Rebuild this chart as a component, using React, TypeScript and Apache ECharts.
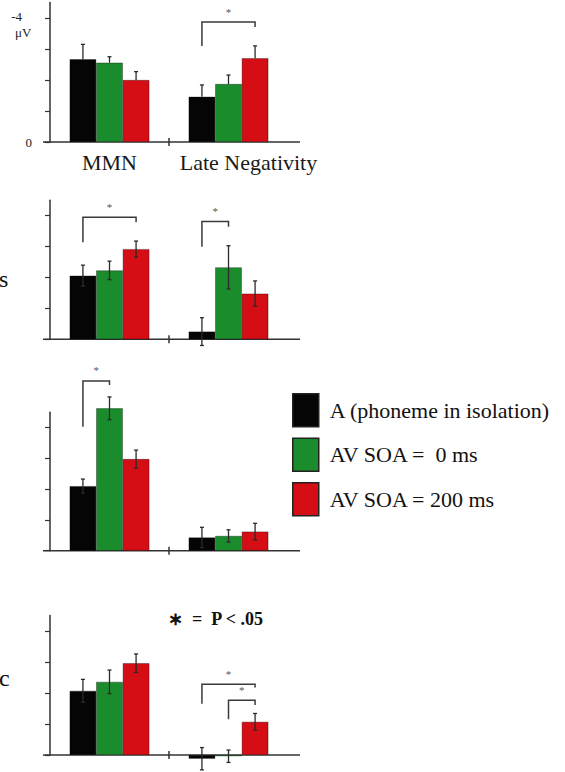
import React, { useEffect, useRef } from 'react';
import * as echarts from 'echarts';

const categories = ['MMN', 'Late Negativity'];
const seriesNames = ['A (phoneme in isolation)', 'AV SOA =  0 ms', 'AV SOA = 200 ms'];
const seriesColors = ['#050505', '#1b8c2b', '#d50d14'];
const yTicks = [0, 1, 2, 3, 4];
const yLabelTicks = [0, 4];

// Panel 1 (values per series: [MMN, Late Negativity])
const p1Black = [2.67, 1.46];
const p1Green = [2.56, 1.87];
const p1Red = [2.0, 2.7];
const p1BlackErr = [0.48, 0.38];
const p1GreenErr = [0.19, 0.29];
const p1RedErr = [0.27, 0.4];
// bracket: [category, fromSeries, toSeries, leftBottom, top, rightBottom]
const p1Brackets = [[1, 0, 2, 3.1, 3.87, 3.71]];

// Panel 2
const p2Black = [2.06, 0.25];
const p2Green = [2.23, 2.33];
const p2Red = [2.92, 1.48];
const p2BlackErr = [0.34, 0.45];
const p2GreenErr = [0.3, 0.7];
const p2RedErr = [0.26, 0.41];
const p2Brackets = [[0, 0, 2, 3.14, 3.95, 3.79], [1, 0, 1, 3.0, 3.81, 3.64]];

// Panel 3
const p3Black = [2.1, 0.43];
const p3Green = [4.63, 0.48];
const p3Red = [2.98, 0.62];
const p3BlackErr = [0.23, 0.33];
const p3GreenErr = [0.37, 0.2];
const p3RedErr = [0.29, 0.27];
const p3Brackets = [[0, 0, 1, 4.03, 5.52, 5.39]];

// Panel 4
const p4Black = [2.07, -0.12];
const p4Green = [2.36, -0.04];
const p4Red = [2.96, 1.07];
const p4BlackErr = [0.37, 0.36];
const p4GreenErr = [0.38, 0.2];
const p4RedErr = [0.3, 0.27];
const p4Brackets = [[1, 0, 2, 1.65, 2.28, 2.18], [1, 1, 2, 1.15, 1.77, 1.61]];

const panels = [
  { values: [p1Black, p1Green, p1Red], errors: [p1BlackErr, p1GreenErr, p1RedErr], brackets: p1Brackets, upOnly: true },
  { values: [p2Black, p2Green, p2Red], errors: [p2BlackErr, p2GreenErr, p2RedErr], brackets: p2Brackets, upOnly: false },
  { values: [p3Black, p3Green, p3Red], errors: [p3BlackErr, p3GreenErr, p3RedErr], brackets: p3Brackets, upOnly: false },
  { values: [p4Black, p4Green, p4Red], errors: [p4BlackErr, p4GreenErr, p4RedErr], brackets: p4Brackets, upOnly: false },
];

const gridTops = [2.5, 200.3, 412.3, 615.5];
const gridHeights = [139.5, 139, 138.4, 139.5];
const GAP = 0.33;
const FONT = 'Liberation Serif';
const AXIS_COLOR = '#333';

function errRenderer(sIdx: number, upOnly: boolean) {
  return (params: any, api: any) => {
    const cat = api.value(0);
    const v = api.value(1);
    const e = api.value(2);
    const band = api.size([1, 0])[0];
    const bw = (band * (1 - GAP)) / 3;
    const cx = api.coord([cat, v])[0] + (sIdx - 1) * bw;
    const yTop = api.coord([cat, v + e])[1];
    const yBot = api.coord([cat, upOnly ? v : v - e])[1];
    const cap = 2;
    const st = { stroke: '#2a2a2a', lineWidth: 1.3 };
    const children: any[] = [
      { type: 'line', shape: { x1: cx, y1: yTop, x2: cx, y2: yBot }, style: st },
      { type: 'line', shape: { x1: cx - cap, y1: yTop, x2: cx + cap, y2: yTop }, style: st },
    ];
    if (!upOnly) {
      children.push({ type: 'line', shape: { x1: cx - cap, y1: yBot, x2: cx + cap, y2: yBot }, style: st });
    }
    return { type: 'group', children };
  };
}

function bracketRenderer(params: any, api: any) {
  const cat = api.value(0);
  const s1 = api.value(1);
  const s2 = api.value(2);
  const band = api.size([1, 0])[0];
  const bw = (band * (1 - GAP)) / 3;
  const cx = api.coord([cat, 0])[0];
  const x1 = cx + (s1 - 1) * bw;
  const x2 = cx + (s2 - 1) * bw;
  const yl = api.coord([cat, api.value(3)])[1];
  const yt = api.coord([cat, api.value(4)])[1];
  const yr = api.coord([cat, api.value(5)])[1];
  return {
    type: 'group',
    children: [
      {
        type: 'polyline',
        shape: { points: [[x1, yl], [x1, yt], [x2, yt], [x2, yr]] },
        style: { stroke: '#3a3a3a', lineWidth: 1.5, fill: 'none' },
      },
      {
        type: 'text',
        style: {
          text: '*',
          x: (x1 + x2) / 2,
          y: yt - 5,
          align: 'center',
          verticalAlign: 'bottom',
          fontSize: 11,
          fontFamily: FONT,
          fill: '#555555',
        },
      },
    ],
  };
}

function axisLineRenderer(params: any, api: any) {
  const cs = params.coordSys;
  const y0 = api.coord([0, 0])[1];
  const band = api.size([1, 0])[0];
  const xd = api.coord([0, 0])[0] + band / 2;
  const st = { stroke: AXIS_COLOR, lineWidth: 1.5 };
  return {
    type: 'group',
    children: [
      { type: 'line', shape: { x1: cs.x - 7, y1: y0, x2: cs.x + cs.width + 12, y2: y0 }, style: st },
      { type: 'line', shape: { x1: xd, y1: y0 - 4, x2: xd, y2: y0 + 4 }, style: st },
    ],
  };
}

export default function App() {
  const ref = useRef<HTMLDivElement>(null);
  useEffect(() => {
    if (!ref.current) return;
    const chart = echarts.init(ref.current, null, { renderer: 'svg' });

    const grids: any[] = [];
    const xAxes: any[] = [];
    const yAxes: any[] = [];
    const series: any[] = [];

    panels.forEach((p, gi) => {
      grids.push({ left: 50, width: 238, top: gridTops[gi], height: gridHeights[gi] });
      xAxes.push({
        type: 'category',
        gridIndex: gi,
        data: categories,
        axisLine: { show: false },
        axisTick: { show: false },
        axisLabel: {
          show: gi === 0,
          interval: 0,
          hideOverlap: false,
          margin: 9,
          fontFamily: FONT,
          fontSize: 22,
          color: '#1a1a1a',
          formatter: (v: string) => (v === 'Late Negativity' ? '{b|' + v + '}' : '{a|' + v + '}'),
          rich: {
            a: { fontFamily: FONT, fontSize: 22, color: '#1a1a1a' },
            b: { fontFamily: FONT, fontSize: 22, color: '#1a1a1a', padding: [0, 0, 0, 40] },
          },
        },
      });
      yAxes.push({
        type: 'value',
        gridIndex: gi,
        min: 0,
        max: 4.5,
        splitLine: { show: false },
        axisLine: { show: true, lineStyle: { color: AXIS_COLOR, width: 1.5 } },
        axisTick: { show: true, length: 5, customValues: yTicks, lineStyle: { color: AXIS_COLOR, width: 1.2 } },
        axisLabel: {
          show: gi === 0,
          customValues: yLabelTicks,
          margin: 18,
          fontFamily: FONT,
          fontSize: 13,
          color: '#222222',
          formatter: (v: number) => (v === 4 ? '{a|-4}' : '{b|0}'),
          rich: {
            a: { fontFamily: FONT, fontSize: 13, color: '#222222', padding: [0, 10, 4, 0] },
            b: { fontFamily: FONT, fontSize: 13, color: '#222222' },
          },
        },
      });

      series.push({
        type: 'custom',
        xAxisIndex: gi,
        yAxisIndex: gi,
        data: [[0, 0]],
        renderItem: axisLineRenderer,
        clip: false,
        silent: true,
        z: 1,
      });

      p.values.forEach((vals, si) => {
        series.push({
          type: 'bar',
          name: seriesNames[si],
          xAxisIndex: gi,
          yAxisIndex: gi,
          data: vals,
          barGap: '0%',
          barCategoryGap: GAP * 100 + '%',
          clip: false,
          z: 2,
          itemStyle: { color: seriesColors[si], borderColor: 'rgba(0,0,0,0.55)', borderWidth: 0.6 },
        });
      });

      p.values.forEach((vals, si) => {
        series.push({
          type: 'custom',
          xAxisIndex: gi,
          yAxisIndex: gi,
          data: vals.map((v, ci) => [ci, v, p.errors[si][ci]]),
          encode: { x: 0, y: 1 },
          renderItem: errRenderer(si, p.upOnly),
          clip: false,
          silent: true,
          z: 3,
        });
      });

      series.push({
        type: 'custom',
        xAxisIndex: gi,
        yAxisIndex: gi,
        data: p.brackets,
        encode: { x: 0, y: 4 },
        renderItem: bracketRenderer,
        clip: false,
        silent: true,
        z: 3,
      });
    });

    chart.setOption({
      animation: false,
      backgroundColor: '#ffffff',
      grid: grids,
      xAxis: xAxes,
      yAxis: yAxes,
      legend: {
        data: seriesNames,
        orient: 'vertical',
        left: 287,
        top: 388,
        icon: 'rect',
        itemWidth: 26,
        itemHeight: 33,
        itemGap: 10,
        itemStyle: { borderColor: '#222222', borderWidth: 1.5 },
        textStyle: { fontFamily: FONT, fontSize: 22, color: '#111111', padding: [4, 0, 0, 6] },
      },
      graphic: [
        {
          type: 'text',
          left: 15,
          top: 26,
          style: { text: 'μV', fontFamily: FONT, fontSize: 13, fill: '#222222' },
        },
        {
          type: 'text',
          left: -1,
          top: 267,
          style: { text: 's', fontFamily: FONT, fontSize: 24, fill: '#111111' },
        },
        {
          type: 'text',
          left: -1,
          top: 666,
          style: { text: 'c', fontFamily: FONT, fontSize: 24, fill: '#111111' },
        },
        {
          type: 'text',
          left: 168,
          top: 610,
          style: { text: '∗  =  P < .05', fontFamily: FONT, fontSize: 18, fontWeight: 'bold', fill: '#111111' },
        },
      ],
      series,
    });

    return () => chart.dispose();
  }, []);

  return <div ref={ref} style={{ position: 'absolute', left: 0, top: 0, width: 565, height: 772 }} />;
}
